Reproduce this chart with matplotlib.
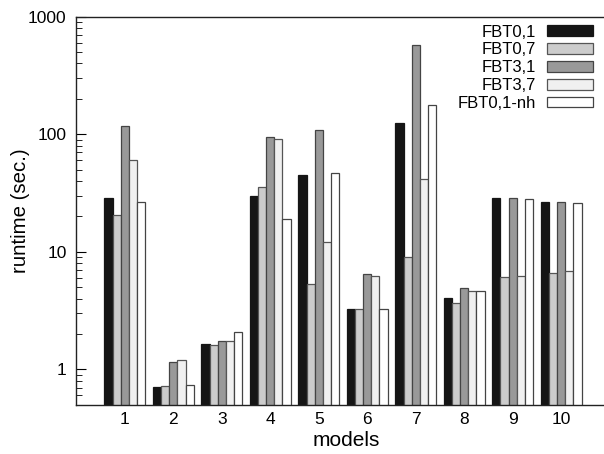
import numpy as np
import matplotlib.pyplot as plt

plt.rcParams['font.family'] = ['Liberation Sans', 'DejaVu Sans']

models = ['1', '2', '3', '4', '5', '6', '7', '8', '9', '10']
series = ['FBT0,1', 'FBT0,7', 'FBT3,1', 'FBT3,7', 'FBT0,1-nh']

fbt01 = [28.9, 0.70, 1.63, 30.1, 44.8, 3.25, 124, 4.07, 28.4, 26.4]
fbt07 = [20.5, 0.71, 1.61, 35.7, 5.35, 3.25, 9.0, 3.69, 6.08, 6.63]
fbt31 = [117, 1.14, 1.74, 94.8, 109, 6.41, 574, 4.94, 28.6, 26.6]
fbt37 = [60.8, 1.18, 1.74, 91.8, 12.2, 6.25, 41.4, 4.63, 6.16, 6.84]
fbt01nh = [26.6, 0.73, 2.07, 18.9, 47.2, 3.22, 176, 4.65, 28.2, 26.2]

values = [fbt01, fbt07, fbt31, fbt37, fbt01nh]
colors = ['#151515', '#cccccc', '#999999', '#f0f0f0', '#ffffff']
edges = ['#151515', '#555555', '#444444', '#555555', '#444444']

fig = plt.figure(figsize=(6.04, 4.54), dpi=100)
# axes run a little past the right edge (right spine is cut off in the original)
ax = fig.add_axes([76.3 / 604, 1 - 404.7 / 454, (616 - 76.3) / 604, (404.7 - 16.7) / 454])

x = np.arange(1, len(models) + 1)
w = 0.168
for i, (name, vals) in enumerate(zip(series, values)):
    ax.bar(x + (i - 2) * w, vals, width=w, bottom=0.01, color=colors[i],
           edgecolor=edges[i], linewidth=0.9, label=name)

ax.set_yscale('log')
ax.set_ylim(0.5, 1000)
ax.set_xlim(0, 11.13)
ax.set_xticks(x)
ax.set_xticklabels(models)
ax.set_yticks([1, 10, 100, 1000])
ax.set_yticklabels(['1', '10', '100', '1000'])

ax.tick_params(axis='x', length=0, labelsize=12.5, pad=5)
ax.tick_params(axis='y', which='major', direction='in', length=7, labelsize=12.5, pad=7)
ax.tick_params(axis='y', which='minor', direction='in', length=4)
ax.spines['right'].set_visible(False)
for s in ['left', 'bottom', 'top']:
    ax.spines[s].set_linewidth(1.0)
    ax.spines[s].set_color('#222222')

ax.set_xlabel('models', fontsize=15, labelpad=3)
ax.set_ylabel('runtime (sec.)', fontsize=14.7, labelpad=-1.5)

leg = ax.legend(loc='upper right', frameon=False, markerfirst=False, fontsize=12,
                handlelength=2.75, handleheight=0.6, labelspacing=0.17,
                handletextpad=0.66, borderpad=0, borderaxespad=0,
                bbox_to_anchor=(593 / 604, 1 - 24.6 / 454), bbox_transform=fig.transFigure)
for t in leg.get_texts():
    t.set_ha('right')

fig.savefig('out.png', dpi=100)
